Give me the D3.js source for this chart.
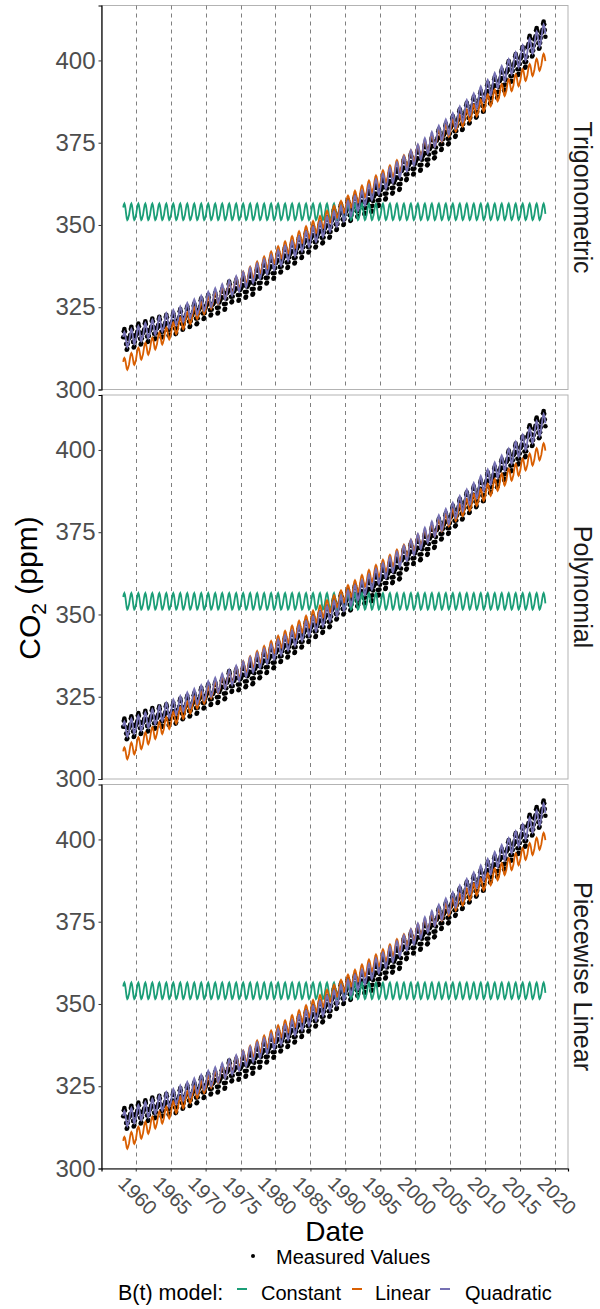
<!DOCTYPE html>
<html>
<head>
<meta charset="utf-8">
<script src="https://cdn.jsdelivr.net/npm/d3@7"></script>
<style>
  body { margin: 0; background: #fff; }
  text { font-family: "Liberation Sans", Arial, sans-serif; }
</style>
</head>
<body>
<div id="chart"></div>
<script>
// ---- data ----
const facets = ["Trigonometric", "Polynomial", "Piecewise Linear"];
const firstYear = 1958;
const firstMonth = 2;   // March 1958
const lastMonth = 7;    // August 2018

// annual means of the measured CO2 series, 1958 .. 2018
const measuredAnnual = [315.3, 315.97, 316.91, 317.64, 318.45, 318.99, 319.62, 320.04, 321.37, 322.18,
  323.05, 324.62, 325.68, 326.32, 327.46, 329.68, 330.19, 331.12, 332.03, 333.84,
  335.41, 336.84, 338.76, 340.12, 341.48, 343.15, 344.85, 346.35, 347.61, 349.31,
  351.69, 353.20, 354.45, 355.70, 356.54, 357.21, 358.96, 360.97, 362.74, 363.88,
  366.84, 368.54, 369.71, 371.32, 373.45, 375.98, 377.70, 379.98, 382.09, 384.02,
  385.83, 387.64, 390.10, 391.85, 394.06, 396.74, 398.81, 401.01, 404.41, 406.76, 408.72];
// month-by-month departure from the annual mean (Jan .. Dec)
const measuredSeason = [-0.4, -0.1, 0.6, 2.4, 3.1, 2.3, 0.5, -1.5, -3.2, -2.9, -1.4, 0.1];

// B(t) model levels per year
const constantLevel = 354.0;
const linearAnnual = [307.7, 309.2, 310.8, 312.3, 313.9, 315.4, 316.9, 318.5, 320.0, 321.6,
  323.1, 324.6, 326.2, 327.7, 329.3, 330.8, 332.3, 333.9, 335.4, 337.0,
  338.5, 340.0, 341.6, 343.1, 344.7, 346.2, 347.7, 349.3, 350.8, 352.4,
  353.9, 355.4, 357.0, 358.5, 360.1, 361.6, 363.1, 364.7, 366.2, 367.8,
  369.3, 370.8, 372.4, 373.9, 375.5, 377.0, 378.5, 380.1, 381.6, 383.2,
  384.7, 386.2, 387.8, 389.3, 390.9, 392.4, 393.9, 395.5, 397.0, 398.6, 400.1];
const quadraticAnnual = [315.1, 316.0, 316.9, 317.8, 318.8, 319.8, 320.8, 321.8, 322.8, 323.9,
  325.0, 326.1, 327.3, 328.4, 329.6, 330.8, 332.0, 333.3, 334.6, 335.9,
  337.2, 338.5, 339.9, 341.3, 342.7, 344.2, 345.6, 347.1, 348.6, 350.2,
  351.7, 353.3, 354.9, 356.5, 358.1, 359.8, 361.5, 363.2, 365.0, 366.7,
  368.5, 370.3, 372.1, 374.0, 375.9, 377.8, 379.7, 381.6, 383.6, 385.6,
  387.6, 389.7, 391.7, 393.8, 395.9, 398.0, 400.1, 402.2, 404.3, 406.4, 408.5];
// monthly offsets of each fitted model (Jan .. Dec)
const constantSeason = [-1.0, 0.2, 1.3, 2.2, 2.5, 2.0, 0.9, -0.6, -2.0, -2.5, -2.3, -1.6];
const linearSeason = [-1.6, -0.4, 0.7, 1.6, 1.9, 1.6, 0.8, -0.3, -1.4, -1.7, -1.4, -0.7];
const quadraticSeason = [-1.8, -0.4, 0.9, 2.0, 2.4, 2.0, 1.0, -0.4, -1.8, -2.2, -1.8, -1.0];

const models = ["Constant", "Linear", "Quadratic"];
const modelColors = ["#1B9E77", "#D95F02", "#7570B3"];
const yTicks = [300, 325, 350, 375, 400];
const xTicks = [1960, 1965, 1970, 1975, 1980, 1985, 1990, 1995, 2000, 2005, 2010, 2015, 2020];

// ---- build monthly series ----
function monthly(annual, season) {
  const out = [];
  annual.forEach((a, i) => {
    season.forEach((s, m) => {
      if (i === 0 && m < firstMonth) return;
      if (i === annual.length - 1 && m > lastMonth) return;
      out.push({ t: firstYear + i + (m + 0.5) / 12, v: a + s });
    });
  });
  return out;
}
const measured = monthly(measuredAnnual, measuredSeason);
const modelSeries = [
  monthly(measuredAnnual.map(() => constantLevel), constantSeason),
  monthly(linearAnnual, linearSeason),
  monthly(quadraticAnnual, quadraticSeason)
];

// ---- layout ----
const width = 600, height = 1309;
const left = 101.5, right = 568;
const panelTops = [5.5, 395, 784.5];
const panelH = 384;

const svg = d3.select('#chart').append('svg')
  .attr('width', width).attr('height', height);

const x = d3.scaleLinear().domain([1955.1, 2021.86]).range([left, right]);

facets.forEach((name, fi) => {
  const top = panelTops[fi];
  const y = d3.scaleLinear().domain([300, 416.7]).range([top + panelH, top]);
  const g = svg.append('g');

  // panel border
  g.append('rect')
    .attr('x', left).attr('y', top)
    .attr('width', right - left).attr('height', panelH)
    .attr('fill', 'none').attr('stroke', '#B3B3B3').attr('stroke-width', 1);

  // dashed year lines
  g.selectAll('.vgrid').data(xTicks).join('line')
    .attr('x1', d => Math.round(x(d)) + 0.5).attr('x2', d => Math.round(x(d)) + 0.5)
    .attr('y1', top).attr('y2', top + panelH)
    .attr('stroke', '#7F7F7F').attr('stroke-width', 1)
    .attr('stroke-dasharray', '4,4');

  // measured points
  g.selectAll('circle').data(measured).join('circle')
    .attr('cx', d => x(d.t)).attr('cy', d => y(d.v))
    .attr('r', 2.3).attr('fill', '#000');

  // model lines
  const line = d3.line().x(d => x(d.t)).y(d => y(d.v));
  modelSeries.forEach((s, k) => {
    g.append('path').datum(s)
      .attr('d', line)
      .attr('fill', 'none')
      .attr('stroke', modelColors[k])
      .attr('stroke-width', 1.8);
  });

  // y axis
  const ay = g.append('g').attr('transform', `translate(${left},0)`)
    .call(d3.axisLeft(y).tickValues(yTicks).tickSize(3).tickPadding(3));
  ay.select('.domain').attr('stroke', '#000').attr('stroke-width', 1.2);
  ay.selectAll('.tick line').attr('stroke', '#333');
  ay.selectAll('.tick text').attr('font-size', 24).attr('fill', '#4D4D4D')
    .style('font-family', '"Liberation Sans", Arial, sans-serif');

  // strip label
  g.append('text')
    .attr('transform', `translate(574,${top + panelH / 2}) rotate(90)`)
    .attr('text-anchor', 'middle')
    .attr('font-size', 25)
    .attr('fill', '#1A1A1A')
    .text(name);

  // x axis on the bottom panel only
  if (fi === facets.length - 1) {
    const ax = g.append('g').attr('transform', `translate(0,${top + panelH})`)
      .call(d3.axisBottom(x).tickValues(xTicks).tickSize(3).tickFormat(d3.format('d')));
    ax.select('.domain').attr('stroke', '#000').attr('stroke-width', 1.2);
    ax.selectAll('.tick line').attr('stroke', '#333');
    ax.selectAll('.tick text')
      .attr('x', 0).attr('y', 0).attr('dy', '0.72em')
      .attr('transform', 'translate(-9,6) rotate(45)')
      .style('text-anchor', 'start')
      .style('font-family', '"Liberation Sans", Arial, sans-serif')
      .attr('font-size', 20).attr('fill', '#4D4D4D');
  }
});

// axis titles
const yTitle = svg.append('text')
  .attr('transform', 'translate(40,588) rotate(-90)')
  .attr('text-anchor', 'middle')
  .attr('font-size', 30)
  .attr('fill', '#000');
yTitle.append('tspan').text('CO');
yTitle.append('tspan').attr('font-size', 21).attr('dy', '0.3em').text('2');
yTitle.append('tspan').attr('dy', '-0.3em').text(' (ppm)');

svg.append('text')
  .attr('x', (left + right) / 2).attr('y', 1241)
  .attr('text-anchor', 'middle')
  .attr('font-size', 28)
  .attr('fill', '#000')
  .text('Date');

// legend
const legend = svg.append('g').attr('font-size', 20).attr('fill', '#000');
legend.append('circle').attr('cx', 253).attr('cy', 1256).attr('r', 2).attr('fill', '#000');
legend.append('text').attr('x', 276).attr('y', 1263.5).text('Measured Values');

legend.append('text').attr('x', 118).attr('y', 1299.5).attr('font-size', 21.5).text('B(t) model:');
const keyX = [237, 352, 440];
const labelX = [261, 375, 465];
models.forEach((m, k) => {
  legend.append('line')
    .attr('x1', keyX[k]).attr('x2', keyX[k] + 10)
    .attr('y1', 1289).attr('y2', 1289)
    .attr('stroke', modelColors[k]).attr('stroke-width', 2);
  legend.append('text').attr('x', labelX[k]).attr('y', 1299.5).text(m);
});
</script>
</body>
</html>
